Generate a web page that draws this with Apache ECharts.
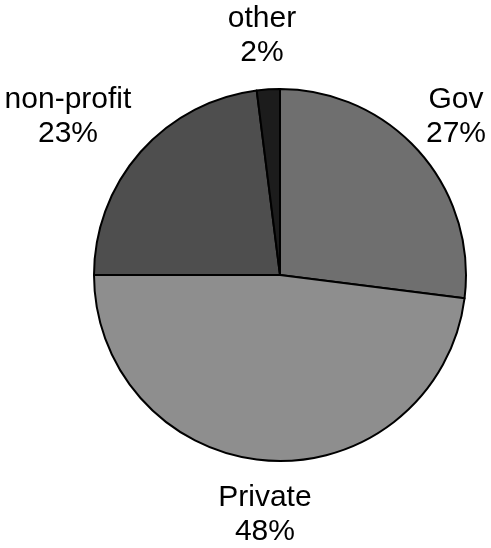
<!DOCTYPE html>
<html>
<head>
<meta charset="utf-8">
<style>
  html, body { margin: 0; padding: 0; background: #ffffff; }
  #chart { width: 491px; height: 548px; }
</style>
<script src="https://cdn.jsdelivr.net/npm/echarts@6/dist/echarts.min.js"></script>
</head>
<body>
<div id="chart"></div>
<script>
// Funding sources, clockwise from 12 o'clock
const sectors = ['Gov', 'Private', 'non-profit', 'other'];
const shares = [27, 48, 23, 2];

// Slice fills (grey tones)
const fills = ['#6f6f6f', '#8e8e8e', '#4e4e4e', '#1c1c1c'];

// Label placement: distance from pie centre and extra horizontal nudge
const labelRadius = 240;
const labelNudgeX = [-4, 0, -32, -3];

const center = [280, 275];
const radius = 186;

const total = shares.reduce((a, b) => a + b, 0);
const midAngles = [];
let acc = 0;
shares.forEach(v => {
  const start = 90 - acc / total * 360;
  acc += v;
  const end = 90 - acc / total * 360;
  midAngles.push((start + end) / 2 * Math.PI / 180);
});

const chart = echarts.init(document.getElementById('chart'), null, { renderer: 'canvas' });
chart.setOption({
  animation: false,
  backgroundColor: '#ffffff',
  series: [{
    type: 'pie',
    center: center,
    radius: radius,
    startAngle: 90,
    clockwise: true,
    avoidLabelOverlap: false,
    data: sectors.map((name, i) => ({
      name: name,
      value: shares[i],
      itemStyle: { color: fills[i] }
    })),
    itemStyle: { borderColor: '#000000', borderWidth: 2 },
    label: {
      show: true,
      position: 'outside',
      formatter: '{b}\n{d}%',
      fontFamily: 'Liberation Sans, Arial, sans-serif',
      fontSize: 30,
      lineHeight: 34,
      color: '#000000',
      align: 'center'
    },
    labelLine: { show: false },
    labelLayout: function (params) {
      const i = params.dataIndex;
      const a = midAngles[i];
      return {
        x: center[0] + labelRadius * Math.cos(a) + labelNudgeX[i],
        y: center[1] - labelRadius * Math.sin(a),
        align: 'center',
        verticalAlign: 'middle'
      };
    },
    emphasis: { disabled: true }
  }]
});
</script>
</body>
</html>
